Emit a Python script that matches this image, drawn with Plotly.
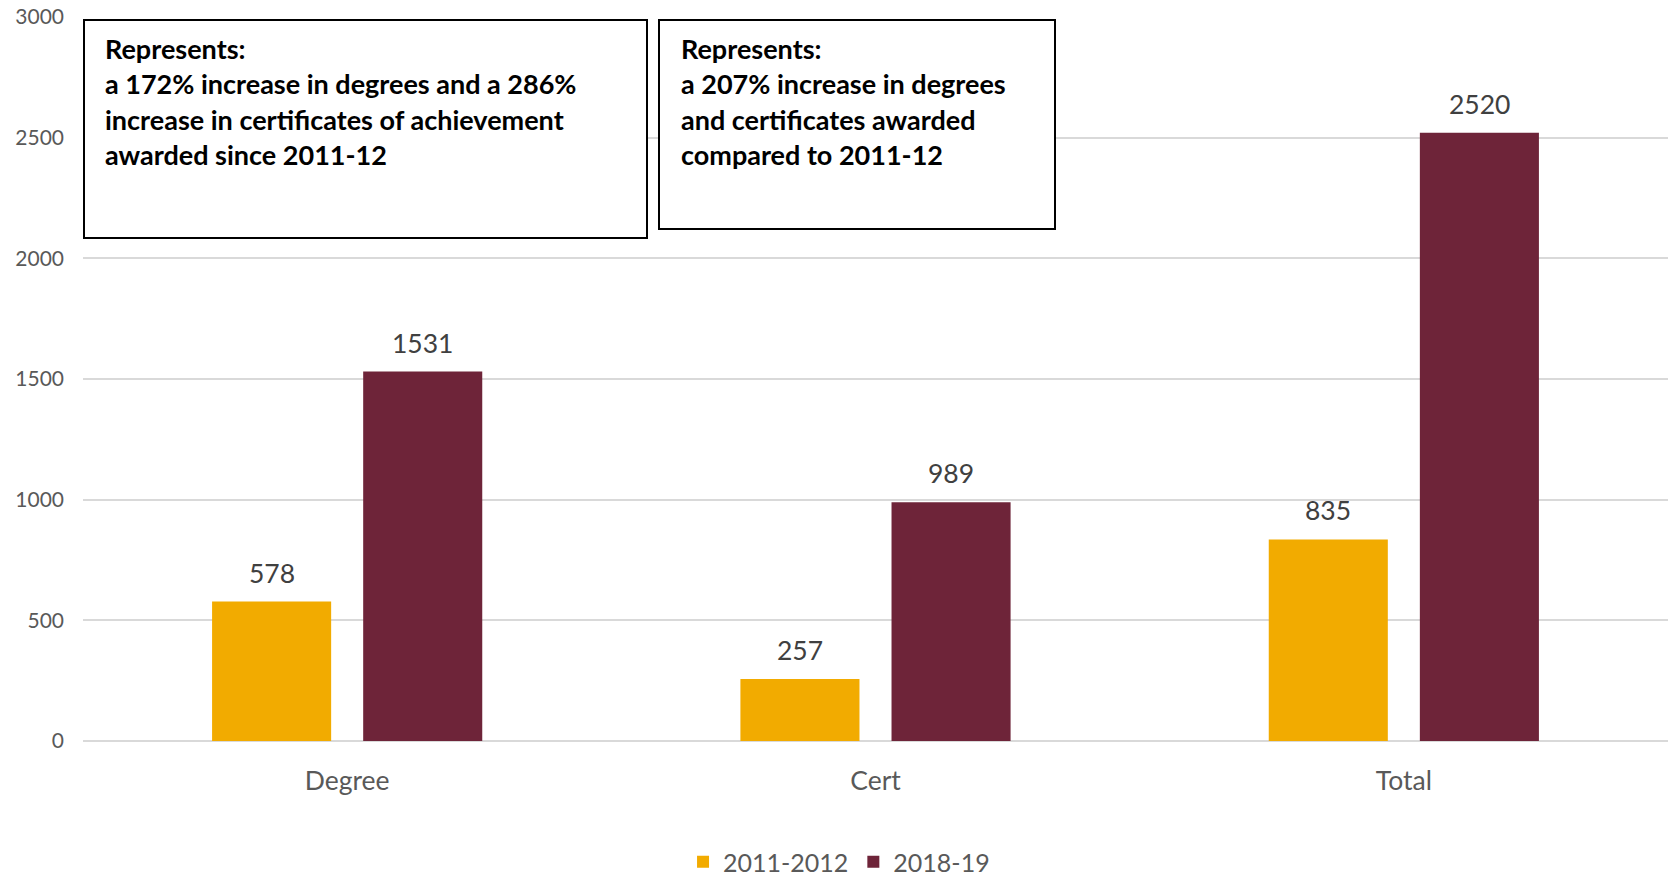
import plotly.graph_objects as go

categories = ["Degree", "Cert", "Total"]
series_names = ["2011-2012", "2018-19"]
values_2011 = [578, 257, 835]
values_2018 = [1531, 989, 2520]
y_ticks = [0, 500, 1000, 1500, 2000, 2500, 3000]

box1_lines = ["Represents:",
              "a 172% increase in degrees and a 286%",
              "increase in certificates of achievement",
              "awarded since 2011-12"]
box2_lines = ["Represents:",
              "a 207% increase in degrees",
              "and certificates awarded",
              "compared to 2011-12"]

W, H = 1671, 880
L, R, T, B = 83, 3, 17, 139
PW, PH = W - L - R, H - T - B

def px_x(px):
    return (px - L) / PW

def px_y(py):
    return (H - B - py) / PH

FONT = "Lato"
colors = ["#F2AB00", "#6E2439"]

fig = go.Figure()
for name, vals, c in zip(series_names, [values_2011, values_2018], colors):
    fig.add_trace(go.Bar(name=name, x=categories, y=vals, marker_color=c,
                         marker_line_width=0))

# value labels
offsets = [-75.5, 75.5]
for vals, off in zip([values_2011, values_2018], offsets):
    for cat, v in zip(categories, vals):
        fig.add_annotation(x=cat, y=v, xref="x", yref="y", text=str(v),
                           showarrow=False, xshift=off, yanchor="bottom", yshift=11,
                           font=dict(family=FONT, size=26.5, color="#404040"))

# text boxes
fig.add_shape(type="rect", xref="paper", yref="paper",
              x0=px_x(84), x1=px_x(647), y0=px_y(238), y1=px_y(20),
              line=dict(color="black", width=2), fillcolor="white", layer="above")
fig.add_shape(type="rect", xref="paper", yref="paper",
              x0=px_x(659), x1=px_x(1055), y0=px_y(229), y1=px_y(20),
              line=dict(color="black", width=2), fillcolor="white", layer="above")
line_y = [48, 83.5, 119, 154.5]
for lines, lx in [(box1_lines, 103), (box2_lines, 679)]:
    for txt, ly in zip(lines, line_y):
        fig.add_annotation(x=px_x(lx), y=px_y(ly), xref="paper", yref="paper",
                           text="<b>" + txt + "</b>", showarrow=False,
                           xanchor="left", yanchor="middle",
                           font=dict(family=FONT, size=27, color="black"))

fig.update_layout(
    width=W, height=H,
    margin=dict(l=L, r=R, t=T, b=B, autoexpand=False),
    paper_bgcolor="white", plot_bgcolor="white",
    barmode="group", bargap=0.428, bargroupgap=0.212,
    font=dict(family=FONT, color="#595959"),
    legend=dict(orientation="h", x=0.477, xanchor="center", y=px_y(862), yanchor="middle",
                font=dict(family=FONT, size=25, color="#595959"), traceorder="normal"),
    showlegend=True,
)
fig.update_xaxes(showgrid=False, showline=False, ticks="",
                 tickfont=dict(family=FONT, size=26.5, color="#595959"),
                 ticklabelstandoff=21, automargin=False)
fig.update_yaxes(range=[0, 3000], tickvals=y_ticks, showgrid=True,
                 gridcolor="#D9D9D9", gridwidth=1.5, zeroline=True,
                 zerolinecolor="#D9D9D9", zerolinewidth=1.5,
                 tickfont=dict(family=FONT, size=21, color="#595959"),
                 ticklabelstandoff=18, automargin=False)

fig.write_html("out.html")
